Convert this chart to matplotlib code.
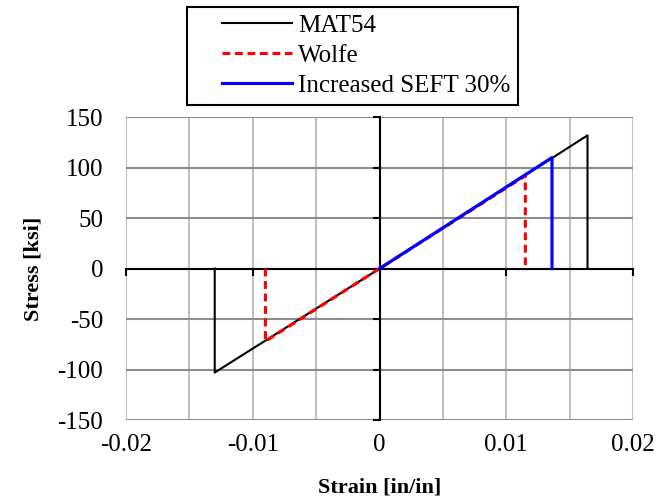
import matplotlib.pyplot as plt
from matplotlib.lines import Line2D
from matplotlib.legend_handler import HandlerLine2D
from matplotlib.ticker import MultipleLocator, FuncFormatter

plt.rcParams['font.family'] = ['Liberation Serif', 'DejaVu Serif']
plt.rcParams['axes.unicode_minus'] = False

# data
mat54_strain = [-0.013, -0.013, 0.0, 0.0164, 0.0164]
mat54_stress = [0, -103, 0, 132, 0]

wolfe_strain = [-0.009, -0.009, 0.0, 0.0115, 0.0115]
wolfe_stress = [0, -72, 0, 92, 0]

seft_strain = [0.0, 0.0136, 0.0136]
seft_stress = [0, 110, 0]

x_ticks = [-0.02, -0.01, 0, 0.01, 0.02]
y_ticks = [-150, -100, -50, 0, 50, 100, 150]

fig = plt.figure(figsize=(6.7, 5.03), dpi=100)
ax = fig.add_axes([0.188, 0.165, 0.757, 0.602])

ax.plot(mat54_strain, mat54_stress, color='black', lw=1.5, label='MAT54', zorder=3)
ax.plot(wolfe_strain, wolfe_stress, color='#ff0000', lw=2.25, linestyle=(0, (2.5, 1.5)),
        label='Wolfe', zorder=4)
ax.plot(seft_strain, seft_stress, color='#0000ff', lw=2.25, label='Increased SEFT 30%', zorder=5)

ax.set_xlim(-0.02, 0.02)
ax.set_ylim(-150, 150)
ax.set_xticks(x_ticks)
ax.set_yticks(y_ticks)
ax.xaxis.set_minor_locator(MultipleLocator(0.005))
ax.xaxis.set_major_formatter(FuncFormatter(lambda v, p: '%g' % round(v, 4)))

# grid: light vertical lines every 0.005, darker horizontal lines every 50
ax.grid(True, which='both', axis='x', color='#c0c0c0', lw=1.5, zorder=0)
ax.grid(True, which='major', axis='y', color='#8c8c8c', lw=1.5, zorder=0)
ax.set_axisbelow(True)

# axes cross at the origin, labels stay at the edges
ax.spines['left'].set_position(('data', 0))
ax.spines['bottom'].set_position(('data', 0))
ax.spines['top'].set_visible(False)
ax.spines['right'].set_visible(False)
for s in ['left', 'bottom']:
    ax.spines[s].set_color('black')
    ax.spines[s].set_linewidth(1.5)
    ax.spines[s].set_zorder(2)

ax.tick_params(axis='x', which='major', direction='out', length=5, width=1.5,
               labelsize=18, pad=114)
ax.tick_params(axis='x', which='minor', length=0)
ax.tick_params(axis='y', direction='out', length=5, width=1.5, labelsize=18, pad=194)

ax.set_xlabel('Strain [in/in]', fontsize=16, fontweight='bold', va='center')
ax.xaxis.set_label_coords(0.5, -0.224)
ax.set_ylabel('Stress [ksi]', fontsize=16, fontweight='bold', va='center')
ax.yaxis.set_label_coords(-0.183, 0.5)

# xpad leaves the empty space left of the legend lines
leg = fig.legend(loc='upper left', bbox_to_anchor=(0.279, 0.986), fontsize=18,
                 frameon=True, fancybox=False, edgecolor='black', framealpha=1,
                 handlelength=3.9, handletextpad=0.24, labelspacing=0.3,
                 borderpad=0.3, borderaxespad=0,
                 handler_map={Line2D: HandlerLine2D(xpad=1.1)})
leg.get_frame().set_linewidth(1.5)

fig.savefig('out.png', dpi=100)
